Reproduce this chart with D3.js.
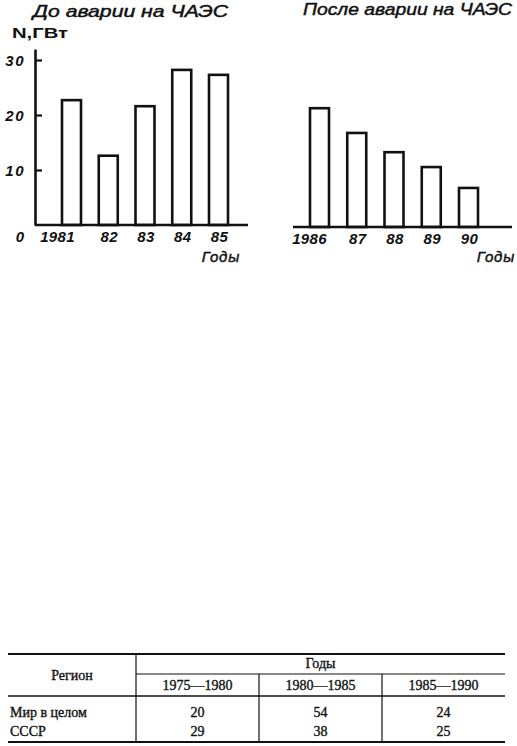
<!DOCTYPE html>
<html><head><meta charset="utf-8">
<script src="https://cdn.jsdelivr.net/npm/d3@7"></script>
<style>body{margin:0;background:#fff} svg{display:block}</style>
</head><body>
<script>
// ---- data ----
const yearsBefore = ["1981", "82", "83", "84", "85"];
const valuesBefore = [22.7, 12.6, 21.6, 28.2, 27.3];
const yearsAfter = ["1986", "87", "88", "89", "90"];
const valuesAfter = [21.6, 17.1, 13.6, 10.9, 7.1];
const yTicks = [10, 20, 30];
const titleBefore = "До аварии на ЧАЭС";
const titleAfter = "После аварии на ЧАЭС";
const yLabel = "N,ГВт";
const xLabel = "Годы";
const tableRegionHeader = "Регион";
const tableYearsHeader = "Годы";
const tableRegions = ["Мир в целом", "СССР"];
const tablePeriods = ["1975—1980", "1980—1985", "1985—1990"];
const tableWorld = [20, 54, 24];
const tableUSSR = [29, 38, 25];

const W = 517, H = 746;
const ink = "#111";
const handFont = "'Liberation Sans', Arial, sans-serif";
const serif = "'Liberation Serif', 'Times New Roman', serif";

const svg = d3.select("body").append("svg").attr("width", W).attr("height", H)
  .style("background", "#fff");

function panel(opts) {
  const g = svg.append("g");
  const y = d3.scaleLinear().domain([0, 32]).range([opts.base, opts.base - 176]);
  const x = d3.scalePoint().domain(opts.cats).range(opts.xr);
  const bw = 19;
  g.append("line").attr("x1", opts.bx[0]).attr("x2", opts.bx[1])
    .attr("y1", y(0)).attr("y2", y(0)).attr("stroke", ink).attr("stroke-width", 2.6);
  g.selectAll("rect.bar").data(opts.vals).join("rect").attr("class", "bar")
    .attr("x", (d, i) => x(opts.cats[i]) - bw / 2)
    .attr("y", d => y(d))
    .attr("width", bw)
    .attr("height", d => y(0) - y(d))
    .attr("fill", "none").attr("stroke", ink).attr("stroke-width", 2.6);
  g.selectAll("text.cat").data(opts.cats).join("text").attr("class", "cat")
    .attr("x", (d, i) => x(d) + (i === 0 ? opts.firstDx : 1))
    .attr("y", opts.base + 17)
    .attr("text-anchor", "middle")
    .attr("font-family", handFont).attr("font-style", "italic").attr("font-weight", "bold")
    .attr("font-size", 15).attr("letter-spacing", 0.3).attr("fill", ink)
    .text(d => d);
  g.append("text").attr("x", opts.xlabX).attr("y", 262)
    .attr("text-anchor", "end")
    .attr("font-family", handFont).attr("font-style", "italic")
    .attr("font-size", 15).attr("letter-spacing", 0.8).attr("fill", ink)
    .attr("stroke", ink).attr("stroke-width", 0.45).text(xLabel);
  g.append("text").attr("x", opts.title[1]).attr("y", opts.title[2])
    .attr("font-family", handFont).attr("font-style", "italic")
    .attr("font-size", 16).attr("fill", ink).attr("stroke", ink).attr("stroke-width", 0.45)
    .attr("textLength", opts.title[3]).attr("lengthAdjust", "spacingAndGlyphs")
    .text(opts.title[0]);
  return { g, x, y };
}

const left = panel({
  cats: yearsBefore, vals: valuesBefore, base: 225, xr: [71.5, 218.5], bx: [35, 248],
  firstDx: -14, xlabX: 240, title: [titleBefore, 33, 17, 195]
});
const right = panel({
  cats: yearsAfter, vals: valuesAfter, base: 227, xr: [319.5, 468.5], bx: [293, 512],
  firstDx: -10, xlabX: 515, title: [titleAfter, 303, 15, 209]
});

const yAxis = d3.axisLeft(left.y).tickValues(yTicks).tickSizeInner(-7).tickSizeOuter(0)
  .tickPadding(10).tickFormat(d3.format("d"));
const ya = svg.append("g").attr("transform", "translate(35,0)").call(yAxis);
ya.select(".domain").attr("stroke", ink).attr("stroke-width", 2.6);
ya.selectAll(".tick line").attr("stroke", ink).attr("stroke-width", 2.2);
ya.selectAll(".tick text").attr("font-family", handFont).attr("font-style", "italic")
  .attr("font-weight", "bold")
  .attr("font-size", 15).attr("letter-spacing", 1.5).attr("fill", ink).attr("dy", "0.36em");
svg.append("text").attr("x", 20).attr("y", 242).attr("text-anchor", "middle")
  .attr("font-family", handFont).attr("font-style", "italic").attr("font-weight", "bold")
  .attr("font-size", 15).attr("fill", ink).text("0");
svg.append("text").attr("x", 12).attr("y", 38)
  .attr("font-family", handFont).attr("font-weight", "bold").attr("font-size", 15)
  .attr("textLength", 56).attr("lengthAdjust", "spacingAndGlyphs").attr("fill", ink).text(yLabel);

// ---- table ----
const tX0 = 8, tX1 = 505, tTop = 654, tSub = 674, tHead = 696, tBot = 742;
const colScale = d3.scaleBand().domain(tablePeriods).range([136, tX1]);
const rowScale = d3.scalePoint().domain(tableRegions).range([717, 736]);
const tg = svg.append("g");
const hline = (x1, x2, yy, w) => tg.append("line").attr("x1", x1).attr("x2", x2)
  .attr("y1", yy).attr("y2", yy).attr("stroke", ink).attr("stroke-width", w);
const vline = (xx, y1, y2) => tg.append("line").attr("x1", xx).attr("x2", xx)
  .attr("y1", y1).attr("y2", y2).attr("stroke", ink).attr("stroke-width", 1.2);
hline(tX0, tX1, tTop, 2);
hline(136, tX1, tSub, 1.2);
hline(tX0, tX1, tHead, 1.3);
hline(tX0, tX1, tBot, 2);
vline(136, tTop, tBot);
tablePeriods.slice(1).forEach(p => vline(colScale(p), tSub, tBot));

const txt = (x, y, s, anchor) => tg.append("text").attr("x", x).attr("y", y)
  .attr("text-anchor", anchor || "middle").attr("font-family", serif)
  .attr("font-size", 14).attr("fill", ink)
  .attr("stroke", ink).attr("stroke-width", 0.35).text(s);
txt(72, 680, tableRegionHeader);
txt(320.5, 668, tableYearsHeader);
tablePeriods.forEach(p => txt(colScale(p) + colScale.bandwidth() / 2, 690, p));
tableRegions.forEach(r => txt(10, rowScale(r), r, "start"));
tablePeriods.forEach((p, i) => {
  txt(colScale(p) + colScale.bandwidth() / 2, rowScale(tableRegions[0]), tableWorld[i]);
  txt(colScale(p) + colScale.bandwidth() / 2, rowScale(tableRegions[1]), tableUSSR[i]);
});
</script>
</body></html>
